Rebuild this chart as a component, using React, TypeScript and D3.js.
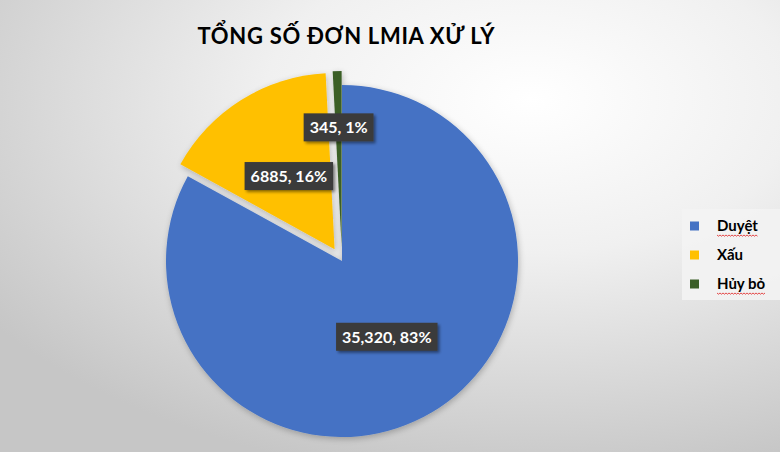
import { useEffect, useRef, useState } from 'react'
import * as d3 from 'd3'

const title = 'TỔNG SỐ ĐƠN LMIA XỬ LÝ'
const categories = ['Duyệt', 'Xấu', 'Hủy bỏ']
const values = [35320, 6885, 345]
const valueLabels = ['35,320', '6885', '345']
const colors = ['#4472C4', '#FFC000', '#3A5E27']
const spellFlag = [true, false, true]

const W = 780
const H = 452
const cx = 342
const cy = 261
const radius = 176
const explode = [0, 14, 14]
const labelRadius = [0.5, 0.49, 0.68]

export default function App() {
  const textRefs = useRef<(SVGTextElement | null)[]>([])
  const legendRefs = useRef<(SVGTextElement | null)[]>([])
  const [widths, setWidths] = useState<number[]>([80, 80, 60])
  const [legendW, setLegendW] = useState<number[]>([30, 24, 38])

  const total = d3.sum(values)
  const slices = d3.pie<number>().sort(null).value(d => d)(values)
  const arc = d3.arc<d3.PieArcDatum<number>>().innerRadius(0).outerRadius(radius)

  const labels = values.map((v, i) => `${valueLabels[i]}, ${Math.round((v / total) * 100)}%`)

  useEffect(() => {
    setWidths(textRefs.current.map(t => (t ? t.getBBox().width : 60)))
    setLegendW(legendRefs.current.map(t => (t ? t.getBBox().width : 30)))
  }, [])

  const dir = (s: d3.PieArcDatum<number>) => {
    const m = (s.startAngle + s.endAngle) / 2
    return [Math.sin(m), -Math.cos(m)]
  }

  const legendY = d3.scalePoint<string>().domain(categories).range([226, 284])

  const zigzag = (x0: number, x1: number, y: number) => {
    const pts: [number, number][] = []
    for (let x = x0, k = 0; x <= x1; x += 1.5, k++) pts.push([x, y + (k % 2 ? 1.2 : 0)])
    return d3.line()(pts) || ''
  }

  return (
    <svg
      width={W}
      height={H}
      style={{ position: 'absolute', left: 0, top: 0 }}
      fontFamily="Lato, 'Open Sans', sans-serif"
    >
      <defs>
        <radialGradient id="bg" cx="0.68" cy="0.22" r="0.85" gradientUnits="objectBoundingBox">
          <stop offset="0%" stopColor="#ffffff" />
          <stop offset="40%" stopColor="#f0f0f0" />
          <stop offset="100%" stopColor="#c6c6c6" />
        </radialGradient>
        <filter id="shadow" x="-20%" y="-20%" width="140%" height="140%">
          <feGaussianBlur in="SourceAlpha" stdDeviation="3" />
          <feOffset dx="1" dy="2" result="b" />
          <feComponentTransfer>
            <feFuncA type="linear" slope="0.25" />
          </feComponentTransfer>
          <feMerge>
            <feMergeNode />
            <feMergeNode in="SourceGraphic" />
          </feMerge>
        </filter>
        <filter id="boxShadow" x="-20%" y="-30%" width="140%" height="170%">
          <feGaussianBlur in="SourceAlpha" stdDeviation="1.5" />
          <feOffset dx="2" dy="2" />
          <feComponentTransfer>
            <feFuncA type="linear" slope="0.45" />
          </feComponentTransfer>
          <feMerge>
            <feMergeNode />
            <feMergeNode in="SourceGraphic" />
          </feMerge>
        </filter>
      </defs>

      <rect width={W} height={H} fill="url(#bg)" />

      <text
        x={346}
        y={44}
        textAnchor="middle"
        fontSize={22}
        fontWeight="bold"
        fill="#000"
        textLength={297}
        lengthAdjust="spacing"
      >
        {title}
      </text>

      <g filter="url(#shadow)">
        {slices.map((s, i) => {
          const [dx, dy] = dir(s)
          return (
            <path
              key={i}
              d={arc(s) || ''}
              fill={colors[i]}
              transform={`translate(${cx + dx * explode[i]},${cy + dy * explode[i]})`}
            />
          )
        })}
      </g>

      {slices.map((s, i) => {
        const [dx, dy] = dir(s)
        const lx = cx + dx * explode[i] + dx * radius * labelRadius[i]
        const ly = cy + dy * explode[i] + dy * radius * labelRadius[i]
        const bw = widths[i] + 12
        const bh = 28
        return (
          <g key={i} transform={`translate(${lx},${ly})`}>
            <rect
              x={-bw / 2}
              y={-bh / 2}
              width={bw}
              height={bh}
              fill="#3b3b3b"
              filter="url(#boxShadow)"
            />
            <text
              ref={el => {
                textRefs.current[i] = el
              }}
              textAnchor="middle"
              dy="0.36em"
              fontSize={16}
              fontWeight="bold"
              fill="#ffffff"
            >
              {labels[i]}
            </text>
          </g>
        )
      })}

      <rect x={682} y={209} width={110} height={91} fill="#f3f3f3" opacity={0.9} />
      {categories.map((c, i) => {
        const y = legendY(c) || 0
        return (
          <g key={c}>
            <rect x={690} y={y - 4.5} width={9} height={9} fill={colors[i]} />
            <text
              ref={el => {
                legendRefs.current[i] = el
              }}
              x={717}
              y={y}
              dy="0.35em"
              fontSize={15}
              fontWeight="bold"
              fill="#000"
            >
              {c}
            </text>
            {spellFlag[i] && (
              <path
                d={zigzag(717, 717 + legendW[i], y + 9)}
                fill="none"
                stroke="#e02020"
                strokeWidth={0.8}
              />
            )}
          </g>
        )
      })}
    </svg>
  )
}
